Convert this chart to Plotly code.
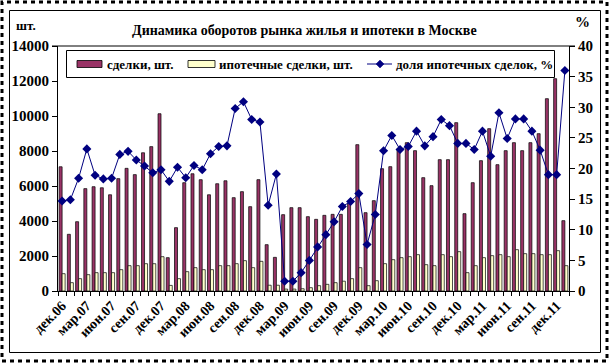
import plotly.graph_objects as go

months_ru = ["янв", "фев", "мар", "апр", "май", "июн", "июл", "авг", "сен", "окт", "ноя", "дек"]
categories = ["дек.06"] + [f"{m}.{y:02d}" for y in range(7, 12) for m in months_ru] + ["янв.12"]

deals = [7100, 3240, 3960, 5850, 5960, 5900, 5500, 6420, 7010, 6650,
         7900, 8250, 10130, 1905, 3620, 6190, 6700, 6360, 5500, 6130,
         6300, 5333, 5676, 4819, 6362, 2648, 1924, 4362, 4762, 4762,
         4248, 4095, 4324, 4381, 4381, 4990, 8362, 4476, 5162, 6990,
         7105, 8133, 8476, 8019, 6476, 6019, 7505, 7505, 9619, 4419,
         6190, 7448, 9276, 7219, 8019, 8476, 8019, 8476, 8990, 10990,
         12133, 4019]

mortgage = [990, 476, 705, 933, 1048, 1048, 1048, 1219, 1448, 1448,
            1560, 1560, 1960, 320, 705, 1105, 1333, 1219, 1219, 1448,
            1448, 1562, 1733, 1333, 1695, 330, 330, 110, 110, 130,
            190, 305, 381, 476, 560, 705, 1333, 305, 590, 1562,
            1790, 1905, 1962, 2076, 1505, 1448, 2076, 1962, 2248, 1048,
            1448, 1905, 2019, 2076, 1962, 2362, 2133, 2133, 2076, 2076,
            2305, 1448]

share = [14.7, 14.9, 18.4, 23.2, 18.9, 18.3, 18.4, 22.3, 22.8, 21.4,
         20.4, 19.3, 19.8, 17.9, 20.2, 18.5, 20.5, 19.8, 22.4, 23.6,
         23.7, 29.8, 30.9, 28.0, 27.6, 14.0, 19.1, 1.6, 1.6, 3.0,
         5.0, 7.2, 9.2, 11.3, 13.8, 14.6, 15.9, 7.6, 12.5, 22.9,
         25.4, 23.1, 23.6, 26.1, 23.7, 25.2, 28.0, 27.0, 24.1, 24.1,
         23.1, 26.1, 22.0, 29.1, 24.9, 28.1, 28.1, 26.1, 23.0, 19.0,
         19.0, 36.0]

series_names = ["сделки, шт.", "ипотечные сделки, шт.", "доля ипотечных сделок, %"]
left_ticks = [0, 2000, 4000, 6000, 8000, 10000, 12000, 14000]
right_ticks = [0, 5, 10, 15, 20, 25, 30, 35, 40]
label_cats = categories[::3]

MAROON, CREAM, NAVY = "#993366", "#FFFFCC", "#000080"
FONT = "Liberation Serif, Times New Roman, DejaVu Serif, serif"
W, H = 609, 363
L, R, T, B = 58, 40, 46, 72
pw, ph = W - L - R, H - T - B

def px(x):
    return (x - L) / pw

def py(y):
    return (H - B - y) / ph

fig = go.Figure()
fig.add_trace(go.Bar(x=categories, y=deals, name=series_names[0], showlegend=False,
                     marker=dict(color=MAROON, line=dict(color="black", width=0.7))))
fig.add_trace(go.Bar(x=categories, y=mortgage, name=series_names[1], showlegend=False,
                     marker=dict(color=CREAM, line=dict(color="black", width=0.7))))
fig.add_trace(go.Scatter(x=categories, y=share, name=series_names[2], yaxis="y2",
                         mode="lines+markers", showlegend=False, cliponaxis=False,
                         line=dict(color=NAVY, width=1),
                         marker=dict(symbol="diamond", size=7, color=NAVY)))

ticktext = [c if c in label_cats else "" for c in categories]

def prect(x0, y0, x1, y1, fill=None, color="black", width=1, dash=None):
    d = dict(type="rect", xref="paper", yref="paper", x0=px(x0), x1=px(x1),
             y0=py(y1), y1=py(y0), line=dict(color=color, width=width), layer="above")
    if dash:
        d["line"]["dash"] = dash
    if fill:
        d["fillcolor"] = fill
    return d

LY = 64
shapes = [
    dict(type="line", xref="paper", yref="paper", x0=px(52), x1=px(575), y0=1, y1=1,
         line=dict(color="black", width=1)),
    prect(9.5, 10.5, 600.5, 352.5),
    prect(2, 2, 607, 361, width=3, dash="4px,4px"),
    prect(66.5, 50.5, 554.5, 77.5, fill="white"),
    prect(77, LY - 3.5, 102, LY + 3.5, fill=MAROON, width=0.8),
    prect(188, LY - 3.5, 215, LY + 3.5, fill=CREAM, width=0.8),
    dict(type="line", xref="paper", yref="paper", x0=px(367), x1=px(392), y0=py(LY), y1=py(LY),
         line=dict(color=NAVY, width=1)),
    dict(type="path", xref="paper", yref="paper",
         path=f"M {px(380)},{py(LY-4)} L {px(384)},{py(LY)} L {px(380)},{py(LY+4)} L {px(376)},{py(LY)} Z",
         fillcolor=NAVY, line=dict(color=NAVY, width=0.5)),
]

annotations = [
    dict(text="Динамика оборотов рынка жилья и ипотеки в Москве", xref="paper", yref="paper",
         x=px(304), y=py(31), xanchor="center", yanchor="middle", showarrow=False,
         font=dict(family=FONT, size=14, color="black", weight="bold")),
    dict(text="шт.", xref="paper", yref="paper", x=px(14), y=py(25), xanchor="left",
         yanchor="middle", showarrow=False,
         font=dict(family=FONT, size=13, color="black", weight="bold")),
    dict(text="%", xref="paper", yref="paper", x=px(592), y=py(22), xanchor="right",
         yanchor="middle", showarrow=False,
         font=dict(family=FONT, size=15, color="black", weight="bold")),
]
for name, xpos in zip(series_names, [105, 217, 394]):
    annotations.append(dict(text=name, xref="paper", yref="paper", x=px(xpos), y=py(LY),
                            xanchor="left", yanchor="middle", showarrow=False,
                            font=dict(family=FONT, size=13, color="black", weight="bold")))

fig.update_layout(
    template="none",
    width=W, height=H,
    margin=dict(l=L, r=R, t=T, b=B, pad=0, autoexpand=False),
    paper_bgcolor="white", plot_bgcolor="white",
    barmode="group", bargap=0.27, bargroupgap=0,
    font=dict(family=FONT, color="black"),
    showlegend=False,
    xaxis=dict(type="category", domain=[0, 1], range=[-0.5, len(categories) - 0.5], autorange=False,
               tickvals=categories, ticktext=ticktext, tickson="boundaries",
               tickangle=-45, ticks="outside", ticklen=4, tickcolor="black", automargin=False,
               showline=True, linecolor="black", linewidth=1, showgrid=False, zeroline=False,
               tickfont=dict(family=FONT, size=14, color="black", weight="bold")),
    yaxis=dict(range=[0, 14000], domain=[0, 1], tickvals=left_ticks, ticktext=[str(v) for v in left_ticks],
               ticks="outside", ticklen=5, automargin=False,
               tickcolor="black", showline=True, linecolor="black", linewidth=1,
               showgrid=False, zeroline=False,
               tickfont=dict(family=FONT, size=15, color="black", weight="bold")),
    yaxis2=dict(range=[0, 40], tickvals=right_ticks, overlaying="y", side="right", anchor="x",
                ticks="outside", ticklen=5, tickcolor="black", showline=True, automargin=False,
                linecolor="black", linewidth=1, showgrid=False, zeroline=False,
                tickfont=dict(family=FONT, size=15, color="black", weight="bold")),
    shapes=shapes,
    annotations=annotations,
)

fig.write_html("out.html", config={"displayModeBar": False},
               post_script="document.body.style.margin='0';document.body.style.padding='0';")
